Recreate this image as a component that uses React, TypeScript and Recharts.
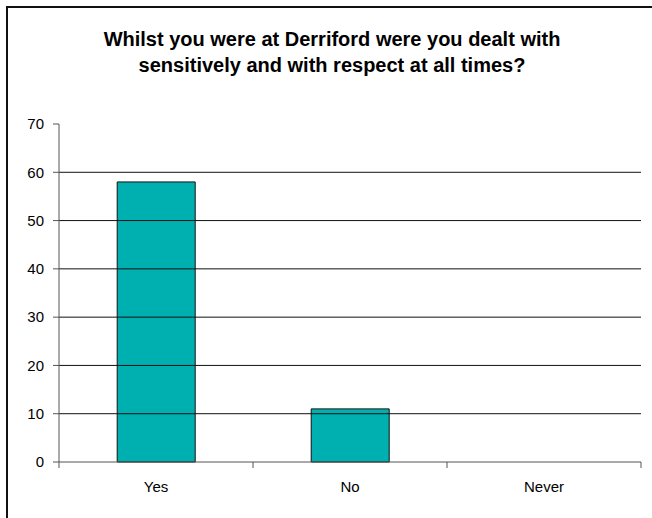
import { BarChart, Bar, XAxis, YAxis, ReferenceLine } from 'recharts';

// survey answers
const categories = ['Yes', 'No', 'Never'];
const responses = [58, 11, 0];
const yTicks = [0, 10, 20, 30, 40, 50, 60, 70];
const gridValues = [10, 20, 30, 40, 50, 60];

const titleLines = [
  'Whilst you were at Derriford were you dealt with',
  'sensitively and with respect at all times?',
];

const data = categories.map((name, i) => ({ name, value: responses[i] }));

const font = '"Liberation Sans", Arial, sans-serif';
const LABEL_GAP = 19;

// category label + small tick marks on the category boundaries (Excel style)
function CategoryTick(props: any) {
  const { x, y, payload, index } = props;
  const half = payload.offset || 0;
  const axisY = y - LABEL_GAP;
  const last = index === categories.length - 1;
  return (
    <g>
      <line x1={x - half} x2={x - half} y1={axisY} y2={axisY + 6} stroke="#555" />
      {last && <line x1={x + half} x2={x + half} y1={axisY} y2={axisY + 6} stroke="#555" />}
      <text x={x} y={y} dy="0.71em" textAnchor="middle" fill="#000" fontSize={15} fontFamily={font}>
        {payload.value}
      </text>
    </g>
  );
}

export default function App() {
  return (
    <div style={{ position: 'absolute', left: 0, top: 0, width: 652, height: 518, background: '#fff', fontFamily: font }}>
      {/* frame, only top + left edges show in the original */}
      <div
        style={{
          position: 'absolute',
          left: 6,
          top: 6,
          width: 646,
          height: 512,
          borderTop: '2px solid #111',
          borderLeft: '2px solid #111',
          boxSizing: 'border-box',
        }}
      />
      <div
        style={{
          position: 'absolute',
          left: 32,
          top: 26,
          width: 600,
          textAlign: 'center',
          fontSize: 20,
          fontWeight: 'bold',
          lineHeight: '26px',
          whiteSpace: 'nowrap',
          color: '#000',
        }}
      >
        {titleLines.map((t) => (
          <div key={t}>{t}</div>
        ))}
      </div>
      <div style={{ position: 'absolute', left: 0, top: 0 }}>
        <BarChart
          width={652}
          height={518}
          data={data}
          margin={{ top: 124, right: 11, left: 0, bottom: 26 }}
          barCategoryGap="30%"
        >
          {gridValues.map((v) => (
            <ReferenceLine key={v} y={v} stroke="#111" />
          ))}
          <XAxis
            dataKey="name"
            height={30}
            tickLine={false}
            tickSize={0}
            tickMargin={LABEL_GAP}
            interval={0}
            axisLine={{ stroke: '#555' }}
            tick={<CategoryTick />}
          />
          <YAxis
            width={59}
            domain={[0, 70]}
            ticks={yTicks}
            interval={0}
            tickSize={6}
            tickMargin={9}
            stroke="#555"
            tick={{ fill: '#000', fontSize: 15, fontFamily: font }}
          />
          <Bar dataKey="value" fill="#00AFAF" stroke="#111" strokeWidth={1} isAnimationActive={false} />
        </BarChart>
      </div>
    </div>
  );
}
